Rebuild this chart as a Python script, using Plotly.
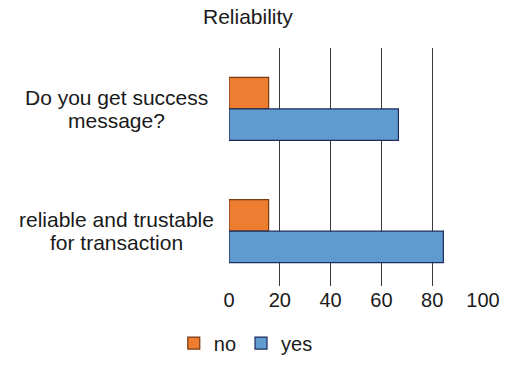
import plotly.graph_objects as go

# Survey answers (percent of respondents)
categories = ["Do you get success<br>message?", "reliable and trustable<br>for transaction"]
no_values = [15.6, 15.6]
yes_values = [66.7, 84.4]
x_ticks = [0, 20, 40, 60, 80, 100]

FONT = "Liberation Sans, Arial, Helvetica, sans-serif"
TXT = "#1a1a1a"

fig = go.Figure()
fig.add_trace(go.Bar(
    y=categories, x=no_values, name="no", orientation="h",
    marker=dict(color="#ED7D31", line=dict(color="#7a3a12", width=1.2)),
))
fig.add_trace(go.Bar(
    y=categories, x=yes_values, name="yes", orientation="h",
    marker=dict(color="#5F9BCF", line=dict(color="#1c2a5c", width=1.2)),
))

# category labels, centred multi-line text to the left of the plot
annotations = []
for cat in categories:
    lines = cat.split("<br>")
    n = len(lines)
    for i, line in enumerate(lines):
        annotations.append(dict(
            x=-0.4436, xref="paper", y=cat, yref="y",
            text=line, showarrow=False, xanchor="center", yanchor="middle",
            yshift=(n - 1) / 2 * 23 - i * 23,
            font=dict(family=FONT, size=21, color=TXT),
        ))

annotations.append(dict(
    x=0.076, xref="paper", y=1.134, yref="paper", text="Reliability",
    showarrow=False, xanchor="center", yanchor="middle",
    font=dict(family=FONT, size=21, color=TXT),
))

fig.update_layout(
    width=512, height=375,
    margin=dict(l=229, r=26, t=48, b=73),
    paper_bgcolor="white", plot_bgcolor="white",
    barmode="group", bargap=0.485, bargroupgap=0,
    font=dict(family=FONT, size=20, color=TXT),
    showlegend=True,
    legend=dict(
        orientation="h", x=0.066, xanchor="center", y=-0.24, yanchor="middle",
        font=dict(family=FONT, size=20, color=TXT),
        itemwidth=30, traceorder="normal",
    ),
    annotations=annotations,
    xaxis=dict(
        range=[0, 100], tickvals=x_ticks, showgrid=True,
        gridcolor="#3a3a3a", gridwidth=1.2, zeroline=False, showline=False,
        ticks="", tickfont=dict(family=FONT, size=20, color=TXT),
        fixedrange=True,
    ),
    yaxis=dict(
        range=[1.448, -0.498], showticklabels=False, showgrid=False,
        zeroline=False, showline=False, ticks="", fixedrange=True,
    ),
)

fig.write_html("out.html")
